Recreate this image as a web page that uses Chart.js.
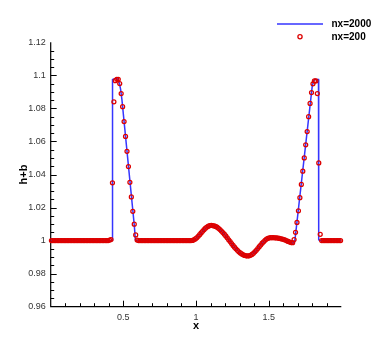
<!DOCTYPE html>
<html><head><meta charset="utf-8">
<script src="https://cdn.jsdelivr.net/npm/chart.js@4.4.1/dist/chart.umd.min.js"></script>
<style>html,body{margin:0;padding:0;background:#fff;}canvas{display:block;}</style>
</head><body>
<canvas id="c" width="388" height="345"></canvas>
<script>
// ---- tick labels ----
const xTickValues = [0.5, 1, 1.5];
const yTickValues = [0.96, 0.98, 1, 1.02, 1.04, 1.06, 1.08, 1.1, 1.12];
const seriesLabels = ['nx=2000', 'nx=200'];

// ---- nx=2000 (fine solution, line) ----
const fineX = [0,0.42,0.4235,0.4255,0.45,0.458,0.466,0.474,0.482,0.49,
  0.575,0.583,0.59,0.96,
  0.98,1.0,1.02,1.04,1.06,1.08,1.10,1.12,1.14,1.16,
  1.18,1.20,1.22,1.24,1.26,1.28,1.30,1.32,1.34,1.355,
  1.37,1.39,1.41,1.43,1.45,1.47,1.49,1.51,1.53,1.55,
  1.57,1.59,1.61,1.63,1.65,1.668,1.678,1.683,1.80,1.81,
  1.818,1.843,1.8445,1.85,2.0];
const fineY = [1,1,1.0003,1.0975,1.0982,1.098,1.097,1.0948,1.091,1.0855,
  1.0095,1.0005,1,1,
  1.0003,1.0013,1.0031,1.0051,1.0071,1.0085,1.0092,1.009,1.0084,1.0071,
  1.0054,1.0034,1.0011,0.9988,0.9966,0.9946,0.9929,0.9917,0.9909,0.9907,
  0.9909,0.9919,0.9936,0.9958,0.9979,0.9998,1.0012,1.0018,1.0018,1.0017,
  1.0014,1.001,1.0005,0.9997,0.9989,0.9985,0.999,1.002,1.0935,1.0968,
  1.0975,1.0975,1.0005,1,1];

// ---- nx=200 (coarse solution, circles) ----
const coarseX = [
0.005,0.015,0.025,0.035,0.045,0.055,0.065,0.075,0.085,0.095,
0.105,0.115,0.125,0.135,0.145,0.155,0.165,0.175,0.185,0.195,
0.205,0.215,0.225,0.235,0.245,0.255,0.265,0.275,0.285,0.295,
0.305,0.315,0.325,0.335,0.345,0.355,0.365,0.375,0.385,0.395,
0.405,0.415,0.425,0.435,0.445,0.455,0.465,0.475,0.485,0.495,
0.505,0.515,0.525,0.535,0.545,0.555,0.565,0.575,0.585,0.595,
0.605,0.615,0.625,0.635,0.645,0.655,0.665,0.675,0.685,0.695,
0.705,0.715,0.725,0.735,0.745,0.755,0.765,0.775,0.785,0.795,
0.805,0.815,0.825,0.835,0.845,0.855,0.865,0.875,0.885,0.895,
0.905,0.915,0.925,0.935,0.945,0.955,0.965,0.975,0.985,0.995,
1.005,1.015,1.025,1.035,1.045,1.055,1.065,1.075,1.085,1.095,
1.105,1.115,1.125,1.135,1.145,1.155,1.165,1.175,1.185,1.195,
1.205,1.215,1.225,1.235,1.245,1.255,1.265,1.275,1.285,1.295,
1.305,1.315,1.325,1.335,1.345,1.355,1.365,1.375,1.385,1.395,
1.405,1.415,1.425,1.435,1.445,1.455,1.465,1.475,1.485,1.495,
1.505,1.515,1.525,1.535,1.545,1.555,1.565,1.575,1.585,1.595,
1.605,1.615,1.625,1.635,1.645,1.655,1.665,1.675,1.685,1.695,
1.705,1.715,1.725,1.735,1.745,1.755,1.765,1.775,1.785,1.795,
1.805,1.815,1.825,1.835,1.845,1.855,1.865,1.875,1.885,1.895,
1.905,1.915,1.925,1.935,1.945,1.955,1.965,1.975,1.985,1.995];
const coarseY = [
1,1,1,1,1,1,1,1,1,1,
1,1,1,1,1,1,1,1,1,1,
1,1,1,1,1,1,1,1,1,1,
1,1,1,1,1,1,1,1,1,1,
1.0003,1.0006,1.035,1.084,1.0968,1.0976,1.0976,1.095,1.089,1.081,
1.072,1.063,1.054,1.0448,1.0353,1.0264,1.0177,1.0099,1.0034,1.0003,
1,1,1,1,1,1,1,1,1,1,
1,1,1,1,1,1,1,1,1,1,
1,1,1,1,1,1,1,1,1,1,
1,1,1,1,1,1,1,1.0001,1.0005,1.0010,
1.0017,1.0026,1.0036,1.0046,1.0056,1.0066,1.0075,1.0082,1.0087,1.0091,
1.0092,1.0091,1.0089,1.0086,1.0081,1.0074,1.0067,1.0058,1.0049,1.0039,
1.0028,1.0017,1.0005,0.9994,0.9982,0.9971,0.9960,0.9950,0.9941,0.9932,
0.9925,0.9919,0.9914,0.9910,0.9908,0.9907,0.9908,0.9911,0.9916,0.9923,
0.9932,0.9941,0.9952,0.9963,0.9973,0.9984,0.9993,1.0002,1.0009,1.0014,
1.0017,1.0018,1.0018,1.0018,1.0017,1.0016,1.0015,1.0013,1.0011,1.0009,
1.0006,1.0003,0.9999,0.9995,0.9991,0.9988,0.9987,1.0006,1.005,1.011,
1.018,1.026,1.034,1.042,1.050,1.058,1.066,1.075,1.083,1.0896,
1.0949,1.0966,1.0966,1.089,1.047,1.0038,1,1,1,1,
1,1,1,1,1,1,1,1,1,1];

const BLUE = '#3535ff';
const RED = '#dd0000';
const FONT = "'Liberation Sans', Arial, Helvetica, sans-serif";
Chart.defaults.font.family = FONT;

const fmt = v => String(+(+v).toFixed(3));

const axesPlugin = {
  id: 'axesTicks',
  beforeDatasetsDraw(chart) {
    const {ctx, chartArea: a, scales: {x, y}} = chart;
    ctx.save();
    ctx.strokeStyle = '#000';
    ctx.lineWidth = 1.2;
    ctx.beginPath();
    ctx.moveTo(a.left, a.top);
    ctx.lineTo(a.left, a.bottom);
    ctx.lineTo(a.right, a.bottom);
    ctx.stroke();
    ctx.lineWidth = 1;
    ctx.beginPath();
    // x ticks: minor every 0.1, major at labels
    for (let k = 1; k < 20; k++) {
      const v = k / 10;
      const major = xTickValues.some(t => Math.abs(t - v) < 1e-9);
      const px = Math.round(x.getPixelForValue(v)) + 0.5;
      ctx.moveTo(px, a.bottom);
      ctx.lineTo(px, a.bottom - (major ? 6 : 3.5));
    }
    // y ticks: minor every 0.005
    for (let k = 1; k < 32; k++) {
      const v = 0.96 + k * 0.005;
      const major = yTickValues.some(t => Math.abs(t - v) < 1e-9);
      const py = Math.round(y.getPixelForValue(v)) + 0.5;
      ctx.moveTo(a.left, py);
      ctx.lineTo(a.left + (major ? 6 : 3.5), py);
    }
    ctx.stroke();
    ctx.restore();
  },
  afterDraw(chart) {
    const ctx = chart.ctx;
    const ds = chart.data.datasets;
    ctx.save();
    ctx.strokeStyle = ds[0].borderColor;
    ctx.lineWidth = 1.5;
    ctx.beginPath();
    ctx.moveTo(277, 24); ctx.lineTo(323, 24);
    ctx.stroke();
    ctx.strokeStyle = ds[1].borderColor;
    ctx.lineWidth = 1.3;
    ctx.beginPath();
    ctx.arc(300, 36.7, 2.1, 0, Math.PI * 2);
    ctx.stroke();
    ctx.fillStyle = '#000';
    ctx.font = 'bold 10px ' + FONT;
    ctx.textBaseline = 'middle';
    ctx.textAlign = 'left';
    ctx.fillText(ds[0].label, 331.5, 24);
    ctx.fillText(ds[1].label, 331.5, 37);
    ctx.restore();
  }
};

new Chart(document.getElementById('c'), {
  type: 'scatter',
  data: {
    datasets: [
      {
        label: seriesLabels[0],
        data: fineX.map((v, i) => ({x: v, y: fineY[i]})),
        showLine: true,
        borderColor: BLUE,
        borderWidth: 1.5,
        pointRadius: 0,
        pointHoverRadius: 0,
        tension: 0,
        order: 1
      },
      {
        label: seriesLabels[1],
        data: coarseX.map((v, i) => ({x: v, y: coarseY[i]})),
        showLine: false,
        borderColor: RED,
        backgroundColor: 'rgba(0,0,0,0)',
        pointBorderColor: RED,
        pointBackgroundColor: 'rgba(0,0,0,0)',
        pointRadius: 2,
        pointBorderWidth: 1.25,
        pointHoverRadius: 2,
        clip: false,
        order: 0
      }
    ]
  },
  options: {
    responsive: false,
    animation: false,
    devicePixelRatio: 1,
    layout: {padding: {left: 0, right: 46.7, top: 42.3, bottom: 0}},
    plugins: {legend: {display: false}, tooltip: {enabled: false}, title: {display: false}},
    events: [],
    scales: {
      x: {
        type: 'linear', min: 0, max: 2,
        afterBuildTicks: s => { s.ticks = xTickValues.map(v => ({value: v})); },
        afterFit: s => { s.height = 38.3; },
        ticks: {font: {size: 9}, color: '#333', padding: 5, maxRotation: 0, autoSkip: false, callback: fmt},
        grid: {display: false, drawTicks: false},
        border: {display: false},
        title: {display: true, text: 'x', color: '#000', font: {size: 11, weight: 'bold'}, padding: {top: 0, bottom: 12.4}}
      },
      y: {
        type: 'linear', min: 0.96, max: 1.12,
        afterBuildTicks: s => { s.ticks = yTickValues.map(v => ({value: v})); },
        afterFit: s => { s.width = 50.7; },
        ticks: {font: {size: 9}, color: '#333', padding: 5, autoSkip: false, callback: fmt},
        grid: {display: false, drawTicks: false},
        border: {display: false},
        title: {display: true, text: 'h+b', color: '#000', font: {size: 11, weight: 'bold'}, padding: {top: 17.4, bottom: 0}}
      }
    }
  },
  plugins: [axesPlugin]
});
</script>
</body></html>
